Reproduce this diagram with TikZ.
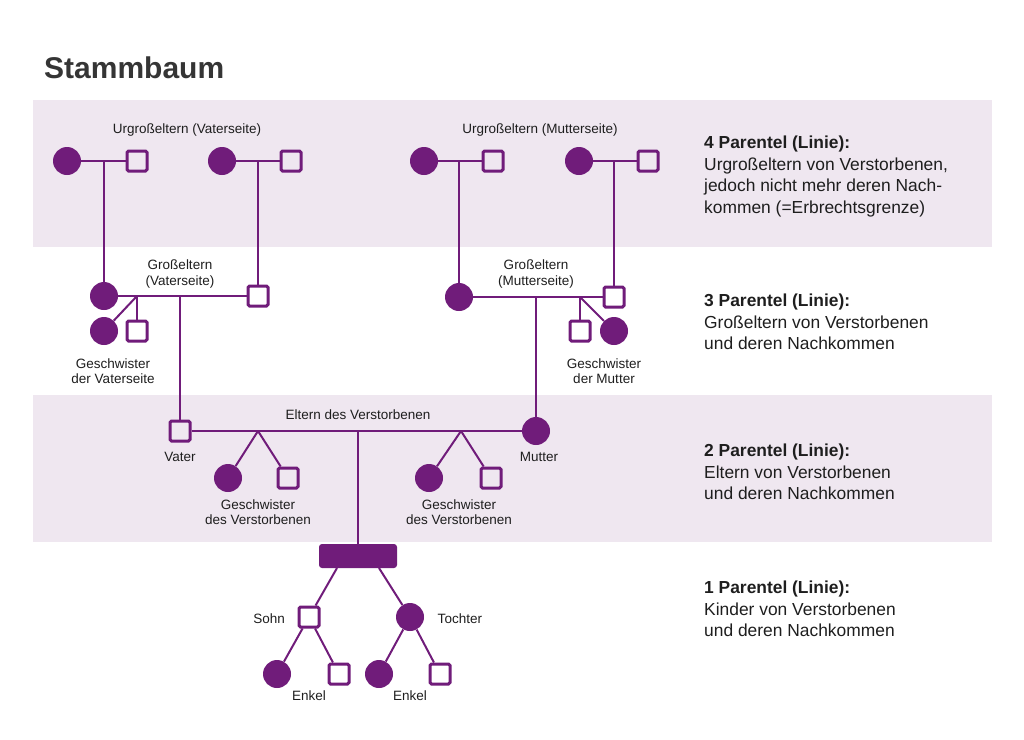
\documentclass[tikz,border=0pt]{standalone}
\usepackage{fontspec}
\setmainfont{Liberation Sans}
\usetikzlibrary{positioning}
\definecolor{purp}{RGB}{112,28,122}
\definecolor{bandbg}{RGB}{239,231,240}
\definecolor{ink}{RGB}{30,30,30}

\begin{document}
\begin{tikzpicture}[x=1pt,y=-1pt,
        female/.style={circle,fill=purp,minimum size=28pt,inner sep=0pt},
        male/.style={draw=purp,line width=3pt,minimum size=20pt,inner sep=0pt,rounded corners=1.5pt},
        link/.style={draw=purp,line width=2pt},
        lbl/.style={text=ink,align=center,font=\fontsize{13.5}{15.5}\selectfont},
        desc/.style={text=ink,align=left,anchor=north west,inner sep=0pt,font=\fontsize{17.4}{21.5}\selectfont}]
        \useasboundingbox (0,0) rectangle (1024,739);
        % Baender fuer 4. und 2. Parentel
        \fill[bandbg] (33,100) rectangle (992,247);
        \fill[bandbg] (33,395) rectangle (992,542);
        \node[anchor=west,inner sep=0pt,text=ink!90,font=\fontsize{30}{36}\selectfont\bfseries] (titel) at (44,68) {Stammbaum};

        % Urgrosseltern
        \node[female] (ugv1w) at (67,161) {};
        \node[male] (ugv1m) at (137,161) {};
        \node[female] (ugv2w) at (222,161) {};
        \node[male] (ugv2m) at (291,161) {};
        \node[female] (ugm1w) at (424,161) {};
        \node[male] (ugm1m) at (493,161) {};
        \node[female] (ugm2w) at (579,161) {};
        \node[male] (ugm2m) at (648,161) {};
        \node[lbl] (ugvlbl) at (187,130) {Urgroßeltern (Vaterseite)};
        \node[lbl] (ugmlbl) at (540,130) {Urgroßeltern (Mutterseite)};

        % Grosseltern und Geschwister der Eltern
        \node[female] (gvw) at (104,296) {};
        \node[male] (gvm) at (258,296) {};
        \node[female] (gmw) at (459,297) {};
        \node[male] (gmm) at (614,297) {};
        \node[lbl] (gvlbl) at (180,274) {Großeltern\\(Vaterseite)};
        \node[lbl] (gmlbl) at (536,274) {Großeltern\\(Mutterseite)};
        \node[female] (gsv1) at (104,331) {};
        \node[male] (gsv2) at (137,331) {};
        \node[lbl] (gsvlbl) at (113,371) {Geschwister\\der Vaterseite};
        \node[male] (gsm1) at (580,331) {};
        \node[female] (gsm2) at (614,331) {};
        \node[lbl] (gsmlbl) at (604,371) {Geschwister\\der Mutter};

        % Eltern und Geschwister
        \node[male] (vater) at (180,431) {};
        \node[female] (mutter) at (536,431) {};
        \node[lbl] (elbl) at (358,415) {Eltern des Verstorbenen};
        \node[lbl] (vlbl) at (180,457) {Vater};
        \node[lbl] (mlbl) at (539,457) {Mutter};
        \node[female] (gs1) at (228,478) {};
        \node[male] (gs2) at (288,478) {};
        \node[female] (gs3) at (429,478) {};
        \node[male] (gs4) at (491,478) {};
        \node[lbl] (gslbl1) at (258,512) {Geschwister\\des Verstorbenen};
        \node[lbl] (gslbl2) at (459,512) {Geschwister\\des Verstorbenen};

        % Verstorbener, Kinder, Enkel
        \node[fill=purp,rounded corners=3pt,minimum width=78pt,minimum height=24pt,inner sep=0pt] (erbl) at (358,556) {};
        \node[male] (sohn) at (309,617) {};
        \node[female] (tochter) at (410,617) {};
        \node[lbl,left=9pt of sohn,yshift=-2pt] (slbl) {Sohn};
        \node[lbl,right=10pt of tochter,yshift=-2pt] (tlbl) {Tochter};
        \node[female] (en1) at (277,674) {};
        \node[male] (en2) at (339,674) {};
        \node[female] (en3) at (379,674) {};
        \node[male] (en4) at (440,674) {};
        \node[lbl] (enlbl1) at (309,696) {Enkel};
        \node[lbl] (enlbl2) at (410,696) {Enkel};

        % Verbindungspunkte
        \coordinate (k1) at (104,161);
        \coordinate (k2) at (258,161);
        \coordinate (k3) at (459,161);
        \coordinate (k4) at (614,161);
        \coordinate (kv) at (180,296);
        \coordinate (kvs) at (137,296);
        \coordinate (km) at (536,297);
        \coordinate (kms) at (580,297);
        \coordinate (ke1) at (258,431);
        \coordinate (ke2) at (461,431);
        \coordinate (ke) at (358,431);
        \coordinate (kk1) at (337,568);
        \coordinate (kk2) at (379,568);

        \draw[link] (ugv1w) -- (ugv1m);
        \draw[link] (ugv2w) -- (ugv2m);
        \draw[link] (ugm1w) -- (ugm1m);
        \draw[link] (ugm2w) -- (ugm2m);
        \draw[link] (k1) -- (gvw);
        \draw[link] (k2) -- (gvm);
        \draw[link] (k3) -- (gmw);
        \draw[link] (k4) -- (gmm);
        \draw[link] (gvw) -- (gvm);
        \draw[link] (gmw) -- (gmm);
        \draw[link] (kvs) -- (gsv1);
        \draw[link] (kvs) -- (gsv2);
        \draw[link] (kms) -- (gsm1);
        \draw[link] (kms) -- (gsm2);
        \draw[link] (kv) -- (vater);
        \draw[link] (km) -- (mutter);
        \draw[link] (vater) -- (mutter);
        \draw[link] (ke1) -- (gs1);
        \draw[link] (ke1) -- (gs2);
        \draw[link] (ke2) -- (gs3);
        \draw[link] (ke2) -- (gs4);
        \draw[link] (ke) -- (erbl);
        \draw[link] (kk1) -- (sohn);
        \draw[link] (kk2) -- (tochter);
        \draw[link] (sohn) -- (en1);
        \draw[link] (sohn) -- (en2);
        \draw[link] (tochter) -- (en3);
        \draw[link] (tochter) -- (en4);

        % Erlaeuterungen
        \node[desc] (p4) at (704,136) {\textbf{4 Parentel (Linie):}\\Urgroßeltern von Verstorbenen,\\jedoch nicht mehr deren Nach-\\kommen (=Erbrechtsgrenze)};
        \node[desc] (p3) at (704,294) {\textbf{3 Parentel (Linie):}\\Großeltern von Verstorbenen\\und deren Nachkommen};
        \node[desc] (p2) at (704,444) {\textbf{2 Parentel (Linie):}\\Eltern von Verstorbenen\\und deren Nachkommen};
        \node[desc] (p1) at (704,581) {\textbf{1 Parentel (Linie):}\\Kinder von Verstorbenen\\und deren Nachkommen};
    \end{tikzpicture}
\end{document}
